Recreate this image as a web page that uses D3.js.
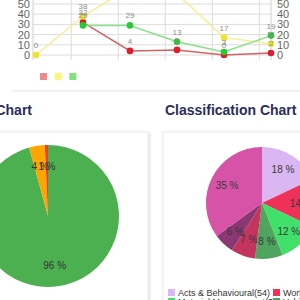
<!DOCTYPE html>
<html>
<head>
<meta charset="utf-8">
<script src="https://cdn.jsdelivr.net/npm/d3@7"></script>
<style>
  body { margin: 0; background: #fff; overflow: hidden; }
  svg { display: block; font-family: "Liberation Sans", Arial, sans-serif; }
</style>
</head>
<body>
<div id="chart"></div>
<script>
// line chart data
const days = ["Mon", "Tue", "Wed", "Thu", "Fri", "Sat"];
const redValues = [null, 32, 4, 5, 0, 2];
const yellowValues = [0, 38, 66, 60, 17, 11];
const greenValues = [null, 29, 29, 13, 3, 19];
const yTicks = [0, 10, 20, 30, 40, 50, 60, 70];

// status pie
const statusNames = ["Closed", "In Progress", "Open"];
const statusCounts = [134, 5, 1];

// classification pie
const classNames = ["Acts & Behavioural", "Work Environment", "Material Management", "Vehicle", "Tools", "PPE", "Unsafe Condition"];
const classCounts = [54, 42, 36, 24, 21, 18, 105];

const w = 300, h = 300;
const svg = d3.select("#chart").append("svg").attr("width", w).attr("height", h);

const defs = svg.append("defs");
const shadow = defs.append("filter").attr("id", "shadow").attr("x", "-10%").attr("y", "-10%").attr("width", "130%").attr("height", "130%");
shadow.append("feDropShadow").attr("dx", 1).attr("dy", 1).attr("stdDeviation", 1.5).attr("flood-color", "#000").attr("flood-opacity", 0.18);

// ---- line chart ----
const x = d3.scalePoint().domain(days).range([36, 271]);
const y = d3.scaleLinear().domain([0, 70]).range([55, 55 - 70 * 1.02]);
const step = x.step();

const grid = svg.append("g");
grid.selectAll("line.h").data(yTicks).enter().append("line")
  .attr("x1", 33).attr("x2", 271)
  .attr("y1", d => y(d)).attr("y2", d => y(d))
  .attr("stroke", "#dcdcdc").attr("stroke-width", 1);
grid.selectAll("line.v").data(days.slice(1)).enter().append("line")
  .attr("x1", d => x(d) - step / 4).attr("x2", d => x(d) - step / 4)
  .attr("y1", y(70)).attr("y2", 60)
  .attr("stroke", "#dcdcdc").attr("stroke-width", 1);
// axes lines
grid.append("line").attr("x1", 33).attr("x2", 33).attr("y1", y(70)).attr("y2", 60).attr("stroke", "#d0d0d0");
grid.append("line").attr("x1", 271).attr("x2", 271).attr("y1", y(70)).attr("y2", 60).attr("stroke", "#d0d0d0");

// tick labels above the window top are not drawn
const shownTicks = yTicks.filter(t => y(t) > 0);
svg.append("g").selectAll("text").data(shownTicks).enter().append("text")
  .attr("x", 30).attr("y", d => y(d) + 4)
  .attr("text-anchor", "end").attr("font-size", 11).attr("fill", "#666")
  .text(d => d);
svg.append("g").selectAll("text").data(shownTicks).enter().append("text")
  .attr("x", 277).attr("y", d => y(d) + 4)
  .attr("font-size", 11).attr("fill", "#666")
  .text(d => d);

const series = [
  { name: "red", values: redValues, line: "#d46262", point: "#dd1c2c", box: "#f08a8a" },
  { name: "yellow", values: yellowValues, line: "#f4f090", point: "#eee62e", box: "#f9f77a" },
  { name: "green", values: greenValues, line: "#86e286", point: "#26c936", box: "#7fe27f" },
];

const line = d3.line()
  .defined(d => d.v !== null)
  .x(d => x(d.day)).y(d => y(d.v));

series.forEach(s => {
  const pts = days.map((day, i) => ({ day, v: s.values[i] }));
  svg.append("path").datum(pts)
    .attr("d", line).attr("fill", "none")
    .attr("stroke", s.line).attr("stroke-width", 1.5);
  s.pts = pts.filter(d => d.v !== null);
});
series.forEach(s => {
  svg.append("g").selectAll("circle").data(s.pts).enter().append("circle")
    .attr("cx", d => x(d.day)).attr("cy", d => y(d.v)).attr("r", 3.3)
    .attr("fill", s.point);
});
series.forEach(s => {
  svg.append("g").selectAll("text").data(s.pts).enter().append("text")
    .attr("x", d => x(d.day)).attr("y", d => y(d.v) - 7)
    .attr("text-anchor", "middle").attr("font-size", 8).attr("fill", "#8a8a8a")
    .text(d => d.v);
});

// legend boxes
const lx = d3.scaleBand().domain(series.map(s => s.name)).range([40, 84]);
svg.append("g").selectAll("rect").data(series).enter().append("rect")
  .attr("x", d => lx(d.name)).attr("y", 73).attr("width", 7).attr("height", 7)
  .attr("fill", d => d.box);

// separator
svg.append("line").attr("x1", 12).attr("x2", 300).attr("y1", 91).attr("y2", 91)
  .attr("stroke", "#ececec").attr("stroke-width", 1.5);

// titles
svg.append("text").attr("x", 32).attr("y", 115).attr("text-anchor", "end")
  .attr("font-size", 14).attr("font-weight", "bold").attr("fill", "#2b2d5b")
  .text("Chart");
svg.append("text").attr("x", 165).attr("y", 115)
  .attr("font-size", 14).attr("font-weight", "bold").attr("fill", "#2b2d5b")
  .text("Classification Chart");

// cards
svg.append("rect").attr("x", -10).attr("y", 132).attr("width", 158).attr("height", 200)
  .attr("fill", "#fff").attr("stroke", "#ececec").attr("filter", "url(#shadow)");
svg.append("rect").attr("x", 163).attr("y", 132).attr("width", 150).attr("height", 200)
  .attr("fill", "#fff").attr("stroke", "#ececec").attr("filter", "url(#shadow)");

// ---- pies ----
const pie = d3.pie().sort(null).value(d => d.value);

function drawPie(names, counts, colors, cx, cy, r, labelColor) {
  const total = d3.sum(counts);
  const data = names.map((n, i) => ({ name: n, value: counts[i] }));
  const arcs = pie(data);
  const arc = d3.arc().innerRadius(0).outerRadius(r);
  const labelArc = d3.arc().innerRadius(r * 0.7).outerRadius(r * 0.7);
  const g = svg.append("g").attr("transform", `translate(${cx},${cy})`);
  g.selectAll("path").data(arcs).enter().append("path")
    .attr("d", arc).attr("fill", (d, i) => colors[i]);
  g.selectAll("text").data(arcs).enter().append("text")
    .attr("transform", d => `translate(${labelArc.centroid(d)})`)
    .attr("text-anchor", "middle").attr("dy", "0.35em")
    .attr("font-size", 10).attr("fill", labelColor)
    .text(d => Math.round(d.value / total * 100) + " %");
}

const statusColors = ["#4caf50", "#ffa500", "#e8412c"];
drawPie(statusNames, statusCounts, statusColors, 48, 216, 71, "#333");

const classColors = ["#dab6f2", "#ef3159", "#41e06a", "#4fa45e", "#c3345f", "#8a3772", "#d653a8"];
drawPie(classNames, classCounts, classColors, 262, 203, 56, "#3a3a3a");

// classification legend
const legendData = classNames.map((n, i) => ({ name: n, value: classCounts[i], color: classColors[i] }));
const colX = d3.scaleOrdinal().domain([0, 1]).range([168, 273]);
const lg = svg.append("g").selectAll("g").data(legendData).enter().append("g")
  .attr("transform", (d, i) => `translate(${colX(i % 2)},${289 + Math.floor(i / 2) * 9})`);
lg.append("rect").attr("width", 7).attr("height", 7).attr("fill", d => d.color);
lg.append("text").attr("x", 10).attr("y", 7).attr("font-size", 9).attr("fill", "#333")
  .text(d => `${d.name}(${d.value})`);
</script>
</body>
</html>
